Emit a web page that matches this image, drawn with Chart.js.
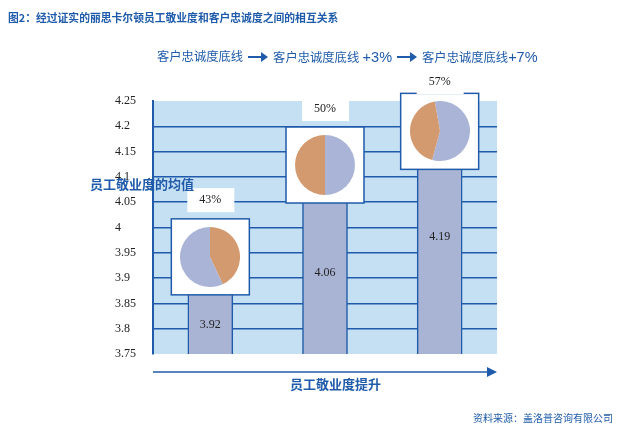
<!DOCTYPE html>
<html>
<head>
<meta charset="utf-8">
<script src="https://cdn.jsdelivr.net/npm/chart.js@4.4.1/dist/chart.umd.min.js"></script>
<style>
html, body { margin: 0; padding: 0; background: #fff; }
#wrap { position: relative; width: 627px; height: 434px; overflow: hidden; font-family: "Noto Sans CJK SC", sans-serif; color: #1f5baa; }
#main { position: absolute; left: 0; top: 0; }
.txt { position: absolute; white-space: nowrap; line-height: 1; }
#title { left: 8px; top: 12px; font-size: 10.8px; font-weight: bold; }
#steps { left: 157px; top: 50px; font-size: 12.3px; font-family: "Liberation Sans", "Noto Sans CJK SC", sans-serif; display: flex; align-items: center; }
#steps .lat { font-size: 14.5px; }
.arrow { display: inline-block; position: relative; width: 14px; height: 2px; background: #1f5baa; margin: 0 11px 0 5px; }
.arrow:after { content: ''; position: absolute; right: -6px; top: -4px; border-left: 7px solid #1f5baa; border-top: 5px solid transparent; border-bottom: 5px solid transparent; }
#ytitle { left: 90px; top: 177px; font-size: 13px; font-weight: bold; }
#xtitle { left: 290px; top: 377px; font-size: 13px; font-weight: bold; }
#source { right: 14px; top: 413px; font-size: 10px; }
.pie { position: absolute; width: 60px; height: 60px; }
</style>
</head>
<body>
<div id="wrap">
  <canvas id="main" width="627" height="434"></canvas>
  <div class="txt" id="title">图2：经过证实的丽思卡尔顿员工敬业度和客户忠诚度之间的相互关系</div>
  <div class="txt" id="steps"></div>
  <div class="txt" id="ytitle">员工敬业度的均值</div>
  <div class="txt" id="xtitle">员工敬业度提升</div>
  <div class="txt" id="source">资料来源：盖洛普咨询有限公司</div>
</div>
<script>
// data
const categories = ['客户忠诚度底线', '客户忠诚度底线 +3%', '客户忠诚度底线+7%'];
const engagementMeans = [3.92, 4.06, 4.19];
const loyaltyShares = ['43%', '50%', '57%'];
const pieValues = [[43, 57], [50, 50], [57, 43]];
const yMin = 3.75, yMax = 4.25, yStep = 0.05;

// styling
const blue = '#1f5baa';
const plotBg = '#c6e0f3';
const barColor = '#a9b4d4';
const orange = '#d49a6f';
const grey = '#a9b4d6';
const pieColors = [[orange, grey], [grey, orange], [grey, orange]];
const pieRotation = [0, 0, -10];

// where the annotations sit, in axis units
const boxCenter = [3.942, 4.1235, 4.19];
const shareLabelAt = [4.054, 4.234, 4.2875];
const valueLabelAt = [3.807, 3.91, 3.981];

const serif = '"Liberation Serif", "Times New Roman", serif';

// header row of steps (latin part is set a little bigger)
const steps = document.getElementById('steps');
categories.forEach((c, i) => {
    const s = document.createElement('span');
    const m = c.match(/^([^ +]*)( ?)(\+.*)?$/);
    s.textContent = m[1] + m[2];
    if (m[3]) {
        const l = document.createElement('span');
        l.className = 'lat';
        l.textContent = m[3];
        s.appendChild(l);
    }
    steps.appendChild(s);
    if (i < categories.length - 1) {
        const a = document.createElement('span');
        a.className = 'arrow';
        steps.appendChild(a);
    }
});

const overlayPlugin = {
    id: 'overlay',
    beforeDraw(chart) {
        const a = chart.chartArea;
        const ctx = chart.ctx;
        ctx.save();
        ctx.fillStyle = plotBg;
        ctx.fillRect(a.left, a.top, a.right - a.left, a.bottom - a.top);
        ctx.restore();
    },
    afterDatasetsDraw(chart) {
        const ctx = chart.ctx;
        const xs = chart.scales.x, ys = chart.scales.y;
        const a = chart.chartArea;
        ctx.save();
        engagementMeans.forEach((v, i) => {
            const x = xs.getPixelForValue(i);
            // value inside the bar
            ctx.fillStyle = '#222';
            ctx.font = '12px ' + serif;
            ctx.textAlign = 'center';
            ctx.textBaseline = 'middle';
            ctx.fillText(v.toFixed(2), x, ys.getPixelForValue(valueLabelAt[i]));
            // white box behind the pie
            const cy = ys.getPixelForValue(boxCenter[i]);
            ctx.fillStyle = '#fff';
            ctx.fillRect(x - 39, cy - 38, 78, 76);
            ctx.strokeStyle = blue;
            ctx.lineWidth = 1.5;
            ctx.strokeRect(x - 39, cy - 38, 78, 76);
            // share label
            const ly = ys.getPixelForValue(shareLabelAt[i]);
            ctx.fillStyle = '#fff';
            ctx.fillRect(x - 23, ly - 12, 47, 24);
            ctx.fillStyle = '#222';
            ctx.fillText(loyaltyShares[i], x, ly);
        });
        // arrow under the plot
        const ay = a.bottom + 18;
        ctx.strokeStyle = blue;
        ctx.lineWidth = 1.5;
        ctx.beginPath();
        ctx.moveTo(a.left, ay);
        ctx.lineTo(a.right - 8, ay);
        ctx.stroke();
        ctx.fillStyle = blue;
        ctx.beginPath();
        ctx.moveTo(a.right - 10, ay - 5);
        ctx.lineTo(a.right, ay);
        ctx.lineTo(a.right - 10, ay + 5);
        ctx.closePath();
        ctx.fill();
        ctx.restore();
    }
};

const chart = new Chart(document.getElementById('main'), {
    type: 'bar',
    data: {
        labels: categories,
        datasets: [{
            data: engagementMeans,
            backgroundColor: barColor,
            borderColor: blue,
            borderWidth: { left: 1.5, right: 1.5, top: 0, bottom: 0 },
            borderSkipped: false,
            barThickness: 45
        }]
    },
    options: {
        responsive: false,
        animation: false,
        layout: { padding: { left: 115, top: 101, right: 130, bottom: 80 } },
        plugins: { legend: { display: false }, tooltip: { enabled: false } },
        scales: {
            x: { display: false },
            y: {
                min: yMin,
                max: yMax,
                afterFit(scale) { scale.width = 38; },
                ticks: {
                    stepSize: yStep,
                    crossAlign: 'far',
                    padding: 0,
                    color: '#222',
                    font: { family: serif, size: 12 },
                    callback: v => String(Number(v.toFixed(2)))
                },
                grid: {
                    drawTicks: false,
                    lineWidth: 1.5,
                    color: ctx => (ctx.tick && ctx.tick.value > yMin + 0.01 && ctx.tick.value < yMax - 0.01) ? blue : 'rgba(0,0,0,0)'
                },
                border: { display: true, color: blue, width: 2 }
            }
        }
    },
    plugins: [overlayPlugin]
});

// small pies on top of each bar
const wrap = document.getElementById('wrap');
pieValues.forEach((vals, i) => {
    const x = chart.scales.x.getPixelForValue(i);
    const y = chart.scales.y.getPixelForValue(boxCenter[i]);
    const box = document.createElement('div');
    box.className = 'pie';
    box.style.left = (x - 30) + 'px';
    box.style.top = (y - 30) + 'px';
    const cv = document.createElement('canvas');
    cv.width = 60;
    cv.height = 60;
    box.appendChild(cv);
    wrap.appendChild(box);
    new Chart(cv, {
        type: 'pie',
        data: { datasets: [{ data: vals, backgroundColor: pieColors[i], borderWidth: 0 }] },
        options: {
            responsive: false,
            animation: false,
            rotation: pieRotation[i],
            plugins: { legend: { display: false }, tooltip: { enabled: false } }
        }
    });
});
</script>
</body>
</html>
